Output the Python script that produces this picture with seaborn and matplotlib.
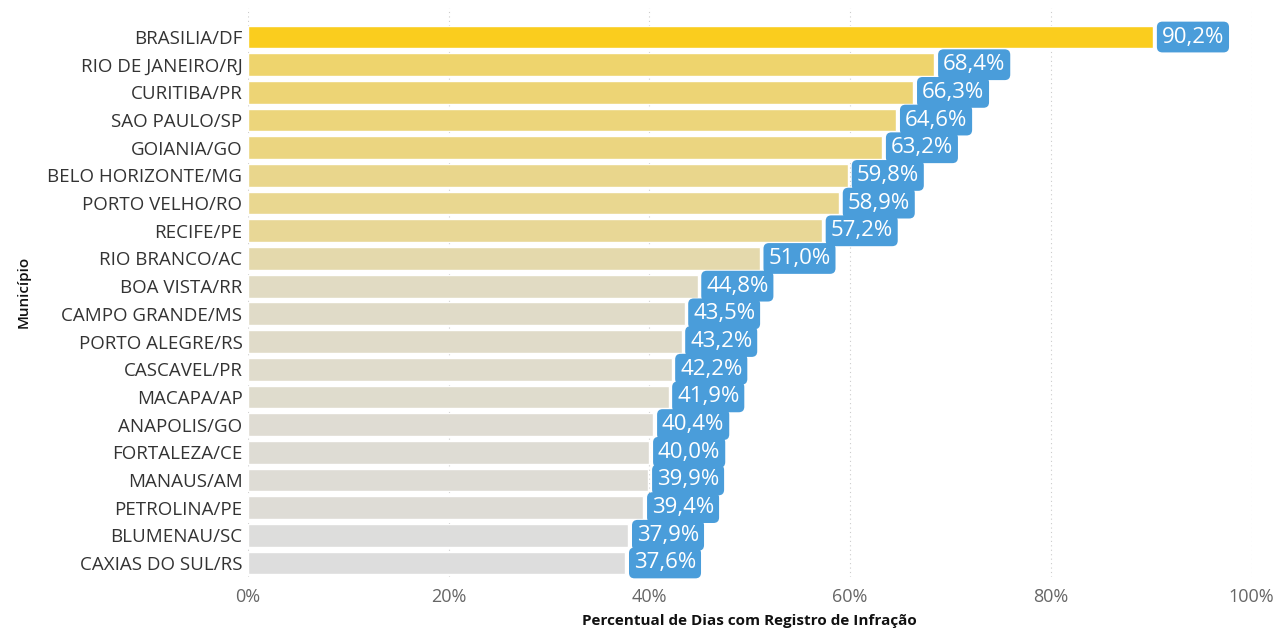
import matplotlib
matplotlib.use("Agg")
import matplotlib.pyplot as plt
import seaborn as sns
import numpy as np
import pandas as pd
from matplotlib.colors import to_rgb

cities = ["BRASILIA/DF", "RIO DE JANEIRO/RJ", "CURITIBA/PR", "SAO PAULO/SP", "GOIANIA/GO",
          "BELO HORIZONTE/MG", "PORTO VELHO/RO", "RECIFE/PE", "RIO BRANCO/AC", "BOA VISTA/RR",
          "CAMPO GRANDE/MS", "PORTO ALEGRE/RS", "CASCAVEL/PR", "MACAPA/AP", "ANAPOLIS/GO",
          "FORTALEZA/CE", "MANAUS/AM", "PETROLINA/PE", "BLUMENAU/SC", "CAXIAS DO SUL/RS"]
values = [90.2, 68.4, 66.3, 64.6, 63.2, 59.8, 58.9, 57.2, 51.0, 44.8,
          43.5, 43.2, 42.2, 41.9, 40.4, 40.0, 39.9, 39.4, 37.9, 37.6]
xticks = [0, 20, 40, 60, 80, 100]
xtick_labels = ["0%", "20%", "40%", "60%", "80%", "100%"]

sns.set_theme(style="white")
plt.rcParams['font.family'] = ['Open Sans', 'DejaVu Sans']

df = pd.DataFrame({"city": cities, "value": values})
lo = np.array(to_rgb("#DDDDDD"))
hi = np.array(to_rgb("#FACD1E"))
vmin, vmax = min(values), max(values)
palette = [tuple(lo + (v - vmin) / (vmax - vmin) * (hi - lo)) for v in values]

fig = plt.figure(figsize=(12.85, 6.37), dpi=100)
ax = fig.add_axes([0.193, 0.0945, 0.781, 0.893])
sns.barplot(data=df, x="value", y="city", hue="city", palette=palette,
            legend=False, width=0.82, ax=ax, saturation=1)
ax.set_xlim(0, 100)
ax.set_ylim(19.5, -1.05)
ax.set_xticks(xticks)
ax.set_xticklabels(xtick_labels, color="#666666", fontsize=13)
ax.tick_params(axis='y', labelsize=13.5, labelcolor="#333333", length=0, pad=4)
ax.tick_params(axis='x', length=0, pad=8)
for s in ax.spines.values():
    s.set_visible(False)
ax.grid(axis='x', color="#CCCCCC", linestyle=(0, (1, 3)), linewidth=0.8)
ax.set_axisbelow(True)
ax.set_ylabel("Município", fontsize=11, color="#111111", labelpad=12, fontweight='semibold')
ax.set_xlabel("Percentual de Dias com Registro de Infração", fontsize=11, color="#111111",
              labelpad=6, fontweight='bold')

for i, v in enumerate(values):
    ax.text(v + 0.85, i, f"{v:.1f}".replace(".", ",") + "%", va="center", ha="left",
            fontsize=16, color="white",
            bbox=dict(boxstyle="round,pad=0.22,rounding_size=0.25", fc="#4A9DDA", ec="none"))

fig.savefig("out.png", dpi=100)
